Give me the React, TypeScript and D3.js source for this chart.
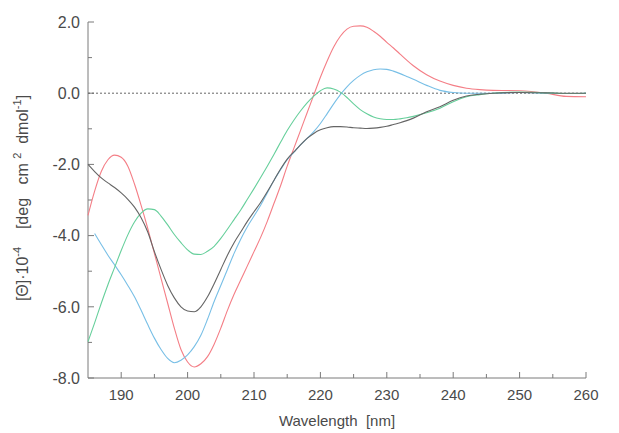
import React, { useEffect, useRef } from 'react';
import * as d3 from 'd3';

// wavelength grid (nm)
const wavelengths = [
  185, 186, 187, 188, 189, 190, 191, 192, 193, 194, 195, 196, 197, 198, 199, 200, 201, 202, 203, 204,
  205, 206, 207, 208, 209, 210, 211, 212, 213, 214, 215, 216, 217, 218, 219, 220, 221, 222, 223, 224,
  225, 226, 227, 228, 229, 230, 231, 232, 233, 234, 236, 238, 240, 242, 244, 246, 250, 254, 257, 260
];

// [θ]·10^-4 values per sample
const redSeries = [
  -3.43, -2.75, -2.2, -1.87, -1.74, -1.8, -2.05, -2.55, -3.15, -3.8, -4.5, -5.2, -5.9, -6.6, -7.2, -7.55, -7.69, -7.6, -7.4, -7.05,
  -6.6, -6.1, -5.65, -5.25, -4.85, -4.45, -4.05, -3.6, -3.1, -2.6, -2.05, -1.55, -1.05, -0.55, -0.05, 0.45, 0.9, 1.3, 1.6, 1.8,
  1.88, 1.89, 1.85, 1.74, 1.6, 1.43, 1.27, 1.1, 0.93, 0.77, 0.52, 0.34, 0.22, 0.14, 0.1, 0.08, 0.07, 0.0, -0.09, -0.1
];

const blueSeries = [
  null, -3.94, -4.25, -4.55, -4.82, -5.1, -5.4, -5.72, -6.1, -6.5, -6.88, -7.2, -7.45, -7.57, -7.5, -7.35, -7.12, -6.8, -6.35, -5.85,
  -5.4, -4.95, -4.5, -4.1, -3.75, -3.45, -3.15, -2.8, -2.45, -2.15, -1.87, -1.66, -1.45, -1.27, -1.08, -0.85, -0.58, -0.3, -0.04, 0.18,
  0.36, 0.5, 0.6, 0.66, 0.68, 0.67, 0.62, 0.55, 0.47, 0.39, 0.22, 0.08, 0.02, 0.0, 0.0, 0.0, 0.02, 0.0, -0.01, 0.0
];

const greenSeries = [
  -6.98, -6.45, -5.9, -5.38, -4.9, -4.42, -3.98, -3.62, -3.37, -3.25, -3.27, -3.45, -3.7, -3.97, -4.2, -4.4, -4.52, -4.53, -4.44, -4.3,
  -4.08, -3.82, -3.55, -3.28, -2.98, -2.68, -2.37, -2.05, -1.72, -1.38, -1.05, -0.76, -0.5, -0.27, -0.08, 0.07, 0.15, 0.12, 0.03, -0.12,
  -0.3, -0.46, -0.58, -0.67, -0.72, -0.74, -0.74, -0.72, -0.69, -0.65, -0.55, -0.42, -0.24, -0.1, -0.04, 0.0, 0.03, 0.01, -0.01, 0.0
];

const graySeries = [
  -2.0, -2.2, -2.38, -2.52, -2.65, -2.8, -2.98, -3.2, -3.5, -3.9, -4.45, -4.95, -5.4, -5.75, -6.0, -6.12, -6.14, -6.0, -5.72, -5.35,
  -4.95, -4.55, -4.2, -3.9, -3.6, -3.33, -3.07, -2.77, -2.45, -2.13, -1.85, -1.65, -1.45, -1.27, -1.13, -1.03, -0.97, -0.94, -0.94, -0.95,
  -0.97, -0.98, -0.99, -0.98, -0.96, -0.93, -0.88, -0.83, -0.77, -0.7, -0.52, -0.38, -0.2, -0.08, -0.03, 0.0, 0.02, 0.01, 0.0, 0.0
];

const xTicks = [190, 195, 200, 205, 210, 215, 220, 225, 230, 235, 240, 245, 250, 255, 260];
const xLabels = [190, 200, 210, 220, 230, 240, 250, 260];
const yTicks = [-8, -7, -6, -5, -4, -3, -2, -1, 0, 1, 2];
const yLabels = [-8, -6, -4, -2, 0, 2];

const series = [
  { name: 'red', values: redSeries, color: '#f47e86' },
  { name: 'blue', values: blueSeries, color: '#78bfe6' },
  { name: 'green', values: greenSeries, color: '#66cf9b' },
  { name: 'gray', values: graySeries, color: '#656565' }
];

const W = 619;
const H = 433;
const axisColor = '#7a7a7a';
const textColor = '#4a4a4a';
const font = 'Liberation Sans, Arial, sans-serif';

const App = () => {
  const svgRef = useRef<SVGSVGElement>(null);

  useEffect(() => {
    const svg = d3.select(svgRef.current);
    svg.selectAll('*').remove();

    const x = d3.scaleLinear().domain([185, 260]).range([88, 586]);
    const y = d3.scaleLinear().domain([-8, 2]).range([378, 22]);

    // y axis (ticks point inward)
    const yAxis = svg.append('g').attr('transform', `translate(${x(185)},0)`);
    yAxis.append('line')
      .attr('y1', y(-8)).attr('y2', y(2))
      .attr('stroke', axisColor);
    yAxis.selectAll('line.tick')
      .data(yTicks)
      .enter()
      .append('line')
      .attr('class', 'tick')
      .attr('x1', 0)
      .attr('x2', d => (yLabels.includes(d) ? 6 : 4))
      .attr('y1', d => y(d))
      .attr('y2', d => y(d))
      .attr('stroke', axisColor);
    yAxis.selectAll('text')
      .data(yLabels)
      .enter()
      .append('text')
      .attr('x', -8)
      .attr('y', d => y(d))
      .attr('dy', '0.36em')
      .attr('text-anchor', 'end')
      .attr('fill', textColor)
      .style('font-family', font)
      .style('font-size', '16px')
      .text(d => d.toFixed(1));

    // x axis
    const xAxis = svg.append('g').attr('transform', `translate(0,${y(-8)})`);
    xAxis.append('line')
      .attr('x1', x(185)).attr('x2', x(260))
      .attr('stroke', axisColor);
    xAxis.selectAll('line.tick')
      .data(xTicks)
      .enter()
      .append('line')
      .attr('class', 'tick')
      .attr('x1', d => x(d))
      .attr('x2', d => x(d))
      .attr('y1', 0)
      .attr('y2', d => (xLabels.includes(d) ? -6 : -4))
      .attr('stroke', axisColor);
    xAxis.selectAll('text')
      .data(xLabels)
      .enter()
      .append('text')
      .attr('x', d => x(d))
      .attr('y', 22)
      .attr('text-anchor', 'middle')
      .attr('fill', textColor)
      .style('font-family', font)
      .style('font-size', '15px')
      .text(d => d);

    // zero line
    svg.append('line')
      .attr('x1', x(185)).attr('x2', x(260))
      .attr('y1', y(0)).attr('y2', y(0))
      .attr('stroke', '#666')
      .attr('stroke-width', 1)
      .attr('stroke-dasharray', '2,2');

    // curves
    const line = d3.line<number | null>()
      .defined(d => d !== null)
      .x((d, i) => x(wavelengths[i]))
      .y(d => y(d as number))
      .curve(d3.curveMonotoneX);

    series.forEach(s => {
      svg.append('path')
        .datum(s.values)
        .attr('fill', 'none')
        .attr('stroke', s.color)
        .attr('stroke-width', 1.1)
        .attr('d', line);
    });

    // axis titles
    svg.append('text')
      .attr('x', (x(185) + x(260)) / 2)
      .attr('y', 426)
      .attr('text-anchor', 'middle')
      .attr('fill', textColor)
      .style('font-family', font)
      .style('font-size', '15px')
      .style('white-space', 'pre')
      .text('Wavelength  [nm]');

    const yt = svg.append('text')
      .attr('transform', 'translate(28,198) rotate(-90)')
      .attr('text-anchor', 'middle')
      .attr('fill', textColor)
      .style('font-family', font)
      .style('font-size', '16px')
      .style('white-space', 'pre');
    yt.append('tspan').text('[Θ]·10');
    yt.append('tspan').attr('dy', -7).style('font-size', '11px').text('-4');
    yt.append('tspan').attr('dy', 7).text('    [deg   cm ');
    yt.append('tspan').attr('dy', -7).style('font-size', '11px').text('2');
    yt.append('tspan').attr('dy', 7).text('  dmol');
    yt.append('tspan').attr('dy', -7).style('font-size', '11px').text('-1');
    yt.append('tspan').attr('dy', 7).text(']');
  }, []);

  return (
    <svg
      ref={svgRef}
      width={W}
      height={H}
      style={{ position: 'absolute', left: 0, top: 0, background: '#fff' }}
    />
  );
};

export default App;
